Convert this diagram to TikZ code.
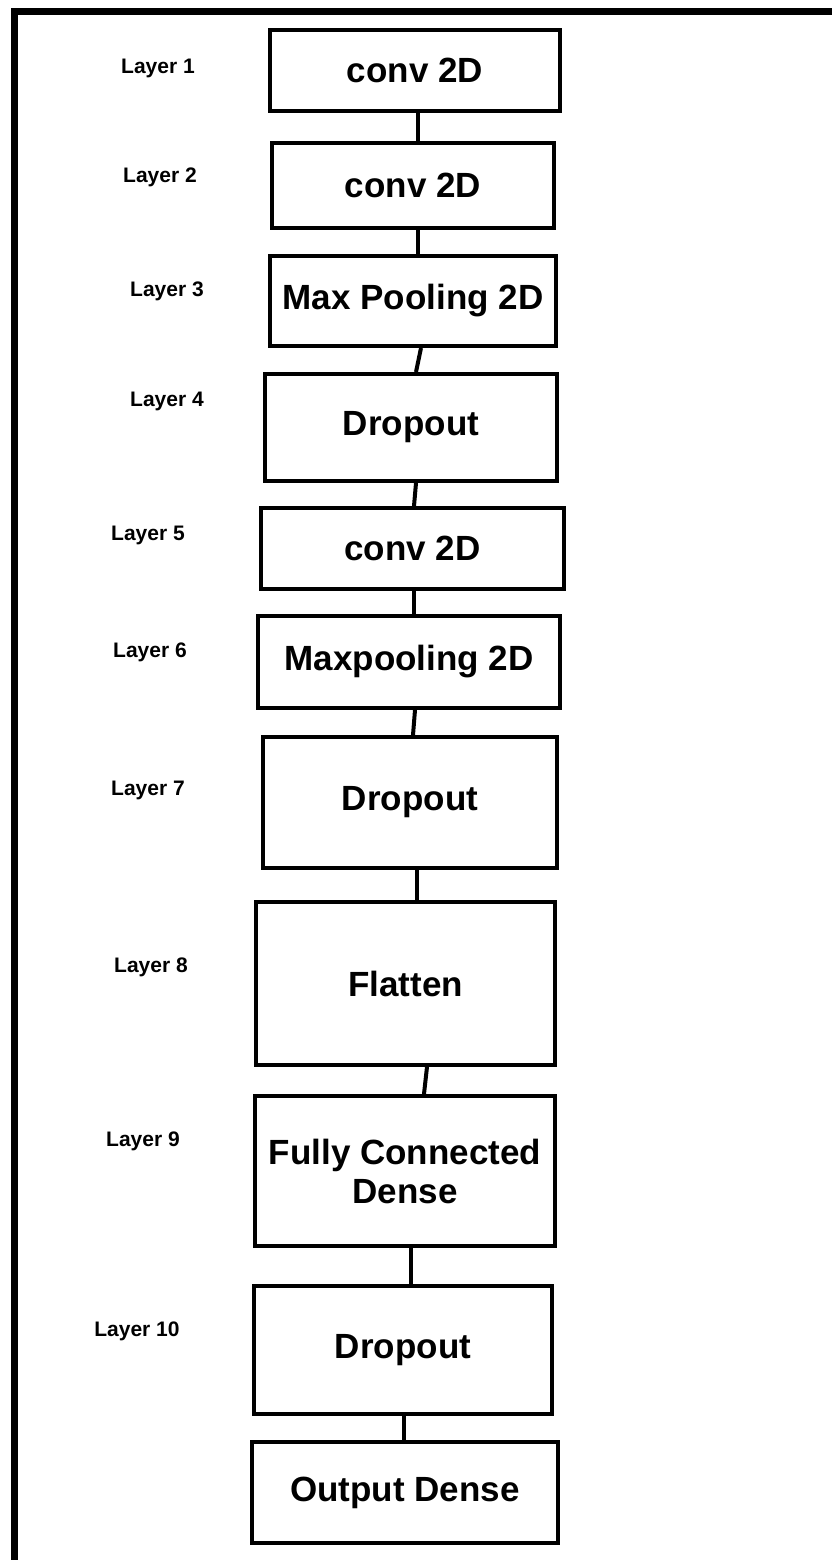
\documentclass[tikz,border=0pt]{standalone}
\usepackage{fontspec}
\setmainfont{Liberation Sans}
\begin{document}
\begin{tikzpicture}[x=1pt,y=-1pt,
    capa/.style={draw, line width=4pt, align=center, inner sep=0pt,
      font=\fontsize{35}{39}\selectfont\bfseries},
    etiqueta/.style={font=\fontsize{21}{24}\selectfont\bfseries},
    enlace/.style={line width=4pt}]
    % Marco de la imagen
    \useasboundingbox (0,0) rectangle (831,1560);
    \draw[line width=7pt] (14,1570) -- (14,12) -- (841,12);

    % Capas de la red
    \node[capa, minimum width=290pt, minimum height=81pt]  (l1)  at (415,70.5)   {conv 2D};
    \node[capa, minimum width=282pt, minimum height=85pt]  (l2)  at (413,185.5)  {conv 2D};
    \node[capa, minimum width=286pt, minimum height=90pt]  (l3)  at (413,301)    {Max Pooling 2D};
    \node[capa, minimum width=292pt, minimum height=107pt] (l4)  at (411,427.5)  {Dropout};
    \node[capa, minimum width=303pt, minimum height=81pt]  (l5)  at (412.5,548.5) {conv 2D};
    \node[capa, minimum width=302pt, minimum height=92pt]  (l6)  at (409,662)    {Maxpooling 2D};
    \node[capa, minimum width=294pt, minimum height=131pt] (l7)  at (410,802.5)  {Dropout};
    \node[capa, minimum width=299pt, minimum height=163pt] (l8)  at (405.5,983.5) {Flatten};
    \node[capa, minimum width=300pt, minimum height=150pt] (l9)  at (405,1171)   {Fully Connected\\Dense};
    \node[capa, minimum width=298pt, minimum height=128pt] (l10) at (403,1350)   {Dropout};
    \node[capa, minimum width=306pt, minimum height=101pt] (l11) at (405,1492.5) {Output Dense};

    % Etiquetas
    \node[etiqueta] (e1)  at (158,68)   {Layer 1};
    \node[etiqueta] (e2)  at (160,177)  {Layer 2};
    \node[etiqueta] (e3)  at (167,291)  {Layer 3};
    \node[etiqueta] (e4)  at (167,401)  {Layer 4};
    \node[etiqueta] (e5)  at (148,535)  {Layer 5};
    \node[etiqueta] (e6)  at (150,652)  {Layer 6};
    \node[etiqueta] (e7)  at (148,790)  {Layer 7};
    \node[etiqueta] (e8)  at (151,967)  {Layer 8};
    \node[etiqueta] (e9)  at (143,1141) {Layer 9};
    \node[etiqueta] (e10) at (137,1331) {Layer 10};

    % Enlaces
    \draw[enlace] ([xshift=3pt]l1.south)    -- ([xshift=5pt]l2.north);
    \draw[enlace] ([xshift=5pt]l2.south)    -- ([xshift=5pt]l3.north);
    \draw[enlace] ([xshift=8pt]l3.south)    -- ([xshift=5pt]l4.north);
    \draw[enlace] ([xshift=5pt]l4.south)    -- ([xshift=1.5pt]l5.north);
    \draw[enlace] ([xshift=1.5pt]l5.south)  -- ([xshift=5pt]l6.north);
    \draw[enlace] ([xshift=6pt]l6.south)    -- ([xshift=3pt]l7.north);
    \draw[enlace] ([xshift=7pt]l7.south)    -- ([xshift=11.5pt]l8.north);
    \draw[enlace] ([xshift=21.5pt]l8.south) -- ([xshift=19pt]l9.north);
    \draw[enlace] ([xshift=6pt]l9.south)    -- ([xshift=8pt]l10.north);
    \draw[enlace] ([xshift=1pt]l10.south)   -- ([xshift=-1pt]l11.north);
\end{tikzpicture}
\end{document}
